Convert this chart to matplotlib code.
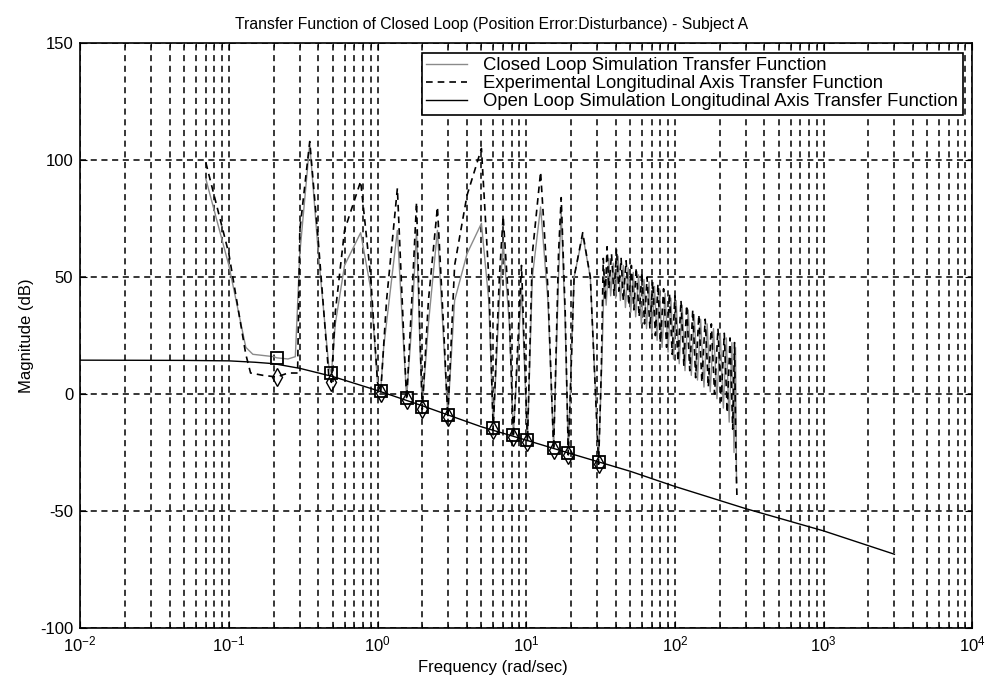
import numpy as np
import matplotlib
matplotlib.use('Agg')
import matplotlib.pyplot as plt
from matplotlib.ticker import LogLocator, NullFormatter

plt.rcParams['font.family'] = ['Liberation Sans', 'DejaVu Sans']
plt.rcParams['mathtext.fontset'] = 'custom'
plt.rcParams['mathtext.rm'] = 'Liberation Sans'
plt.rcParams['axes.unicode_minus'] = False

# open loop simulation (solid black)
open_f = [0.01, 0.05, 0.1, 0.15, 0.2, 0.3, 0.5, 1.0, 2.0, 3.0, 5.0, 10.0,
          20.0, 50.0, 100.0, 300.0, 1000.0, 3000.0]
open_db = [14.5, 14.4, 14.2, 13.6, 13.0, 11.0, 7.5, 1.5, -5.0, -9.0, -14.0,
           -19.7, -25.5, -33.0, -39.5, -49.0, -58.5, -68.5]

# input (disturbance) frequencies and the values at them
input_f = [0.21, 0.49, 1.05, 1.57, 2.0, 2.97, 6.0, 8.2, 10.2, 15.3, 19.2, 30.7]
closed_at_input = [15.5, 9.0, 1.5, -1.7, -5.5, -9.0, -14.5, -17.5, -19.7, -23.0, -25.3, -29.0]
exp_at_input = [7.3, 5.0, 0.5, -2.5, -6.5, -10.0, -15.5, -18.5, -20.5, -24.0, -26.0, -30.0]

# closed loop simulation (grey)
closed_f = [0.07, 0.1, 0.13, 0.145, 0.2, 0.21, 0.25, 0.28, 0.3, 0.35, 0.4, 0.47, 0.49,
            0.52, 0.6, 0.77, 0.9, 1.0, 1.05, 1.1, 1.36, 1.5, 1.57, 1.7, 1.83, 1.93, 2.0,
            2.2, 2.53, 2.8, 2.97, 3.3, 4.0, 5.0, 5.6, 6.0, 6.6, 7.0, 7.7, 8.2, 9.3,
            10.2, 11.0, 12.5, 14.0, 15.3, 16.5, 17.2, 18.3, 19.2, 21.0, 24.0, 27.0,
            30.7, 32.5, 33.5, 34.5, 36.0, 37.0, 38.5, 40.0, 41.5, 43.0, 45.0, 46.5,
            48.5, 50.5, 52.5, 54.5, 57.0, 59.5, 62.0, 64.5, 67.0, 70.0, 73.0, 76.0,
            79.0, 82.0, 86.0, 90.0, 94.0, 98.0, 102.0, 107.0, 112.0, 117.0, 123.0,
            129.0, 135.0, 142.0, 149.0, 157.0, 165.0, 173.0, 182.0, 192.0, 202.0,
            212.0, 222.0, 232.0, 242.0, 250.0, 256.0, 260.0]
closed_db = [92, 55, 20, 17, 16, 15.5, 15, 16, 60, 107, 60, 12, 9,
             30, 55, 69, 45, 5, 1.5, 20, 70, 20, -1.7, 30, 70, 20, -5.5,
             30, 70, 20, -9, 40, 60, 73, 40, -14.5, 40, 65, 30, -17.5, 45,
             -19.7, 50, 80, 40, -23, 50, 78, 30, -25.3, 50, 68, 50,
             -29, 20, 52, 38, 58, 42, 56, 41, 59, 40, 55, 37,
             54, 35, 52, 33, 51, 30, 49, 28, 48, 26, 46, 23,
             45, 20, 43, 18, 41, 15, 40, 13, 38, 10, 36,
             8, 34, 6, 32, 3, 30, 1, 28, -2, 26,
             -6, 24, -12, 22, -25, 20, -38]

# experimental (dashed black)
exp_f = [0.07, 0.1, 0.13, 0.14, 0.17, 0.21, 0.25, 0.29, 0.3, 0.35, 0.4, 0.47, 0.49,
         0.52, 0.6, 0.77, 0.9, 1.0, 1.05, 1.15, 1.36, 1.5, 1.57, 1.7, 1.83, 1.93, 2.0,
         2.2, 2.53, 2.8, 2.97, 3.3, 4.0, 5.0, 5.6, 6.0, 6.6, 7.0, 7.7, 8.2, 9.3,
         10.2, 11.0, 12.5, 14.0, 15.3, 16.5, 17.2, 18.3, 19.2, 21.0, 24.0, 27.0,
         30.7, 32.0, 33.0, 34.0, 35.0, 36.0, 37.5, 39.0, 40.5, 42.0, 43.5, 45.0,
         47.0, 49.0, 51.0, 53.0, 55.0, 57.5, 60.0, 62.5, 65.0, 68.0, 71.0, 74.0,
         77.0, 80.0, 84.0, 88.0, 92.0, 96.0, 100.0, 105.0, 110.0, 115.0, 120.0,
         126.0, 132.0, 138.0, 145.0, 152.0, 160.0, 168.0, 176.0, 185.0, 195.0,
         205.0, 215.0, 225.0, 235.0, 245.0, 252.0, 258.0, 262.0]
exp_db = [99, 60, 17, 9, 8, 7.3, 9, 9, 70, 108, 65, 8, 5,
          35, 70, 91, 50, 5, 0.5, 40, 88, 25, -2.5, 40, 82, 25, -6.5,
          40, 80, 25, -10, 55, 85, 105, 50, -15.5, 50, 76, 35, -18.5, 55,
          -20.5, 60, 95, 45, -24, 60, 84, 35, -26, 50, 69, 50,
          -30, 10, 58, 40, 63, 45, 60, 42, 62, 44, 58, 40,
          57, 38, 55, 36, 54, 33, 52, 30, 50, 28, 48, 25,
          47, 22, 45, 20, 43, 17, 42, 14, 40, 12, 38,
          10, 36, 7, 34, 5, 32, 3, 30, 0, 28,
          -3, 26, -8, 24, -15, 22, -30, -45]

fig = plt.figure(figsize=(9.9, 6.87), dpi=100)
ax = fig.add_axes([0.081, 0.086, 0.901, 0.851])

ax.semilogx(closed_f, closed_db, color='#8a8a8a', linewidth=1.0,
            label='Closed Loop Simulation Transfer Function')
ax.semilogx(exp_f, exp_db, color='black', linewidth=1.2, linestyle=(0, (4, 3)),
            label='Experimental Longitudinal Axis Transfer Function')
ax.semilogx(open_f, open_db, color='black', linewidth=1.0,
            label='Open Loop Simulation Longitudinal Axis Transfer Function')

ax.plot(input_f, closed_at_input, linestyle='none', marker='s', markersize=9,
        markerfacecolor='none', markeredgecolor='black', markeredgewidth=1.3)
ax.plot(input_f, exp_at_input, linestyle='none', marker='d', markersize=9,
        markerfacecolor='none', markeredgecolor='black', markeredgewidth=1.0)

ax.set_xlim(1e-2, 1e4)
ax.set_ylim(-100, 150)
ax.set_yticks([-100, -50, 0, 50, 100, 150])
ax.xaxis.set_major_locator(LogLocator(base=10, numticks=10))
ax.xaxis.set_minor_locator(LogLocator(base=10, subs=np.arange(2, 10), numticks=100))
ax.xaxis.set_minor_formatter(NullFormatter())

ax.grid(True, which='major', color='black', linestyle=(0, (4, 3)), linewidth=1.1)
ax.grid(True, which='minor', axis='x', color='black', linestyle=(0, (4, 3)), linewidth=1.1)

ax.tick_params(which='both', direction='in', top=True, right=True, labelsize=12)
ax.tick_params(which='major', length=5, pad=5)
ax.tick_params(which='minor', length=3)
for s in ax.spines.values():
    s.set_linewidth(1.2)

ax.set_title('Transfer Function of Closed Loop (Position Error:Disturbance) - Subject A',
             fontsize=11.3, pad=10, x=0.461)
ax.set_xlabel('Frequency (rad/sec)', fontsize=12, x=0.463)
ax.set_ylabel('Magnitude (dB)', fontsize=12)

leg = ax.legend(loc='upper right', fontsize=13.3, frameon=True, fancybox=False,
                edgecolor='black', framealpha=1.0, handlelength=2.2,
                borderaxespad=0.5, labelspacing=0.05, borderpad=0.25,
                handletextpad=0.9)
leg.get_frame().set_linewidth(1.2)

fig.savefig('out.png', dpi=100)
